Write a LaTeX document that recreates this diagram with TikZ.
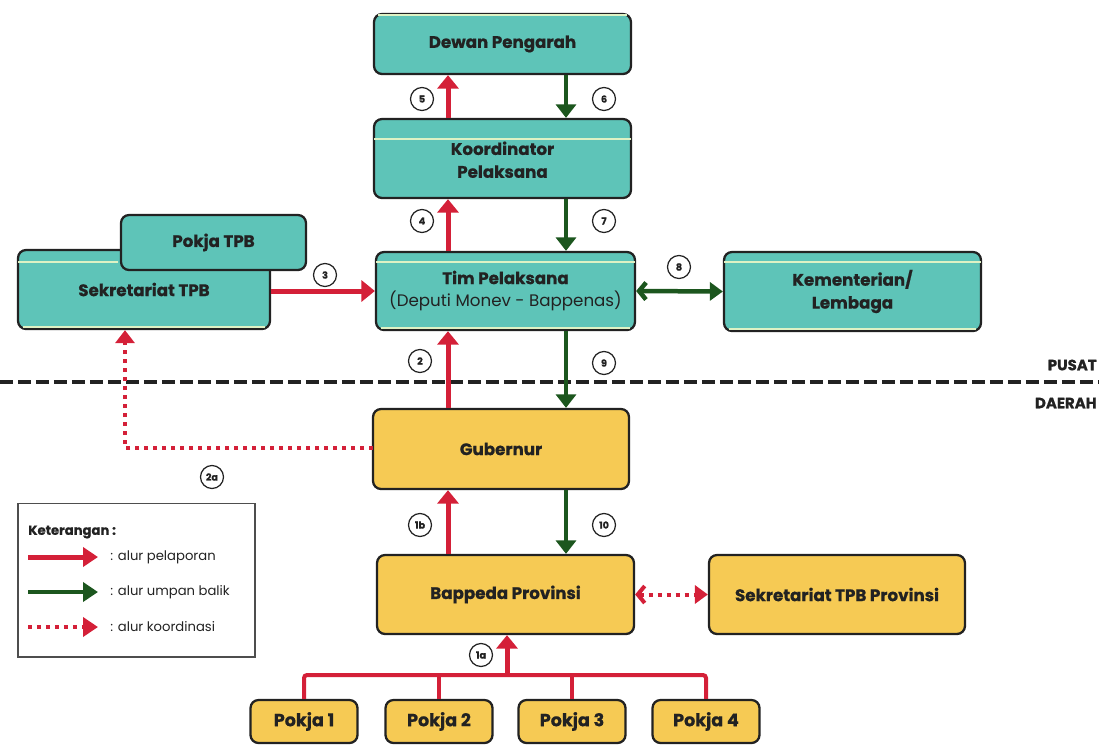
\documentclass[tikz,border=0pt]{standalone}
\usepackage{fontspec}
\setmainfont{Poppins}[BoldFeatures={FakeBold=0.7}]
\usetikzlibrary{arrows.meta}
\definecolor{tealf}{RGB}{94,196,184}
\definecolor{yelf}{RGB}{246,202,84}
\definecolor{bord}{RGB}{34,34,34}
\definecolor{redA}{RGB}{212,32,56}
\definecolor{grnA}{RGB}{28,86,30}
\definecolor{hlc}{RGB}{222,242,196}
\begin{document}
\begin{tikzpicture}[x=0.02cm,y=-0.02cm,
  box/.style={draw=bord, line width=1.3pt, rounded corners=0.16cm, inner sep=0pt, align=center,
    font=\fontsize{9.5}{13}\selectfont\bfseries, text=bord},
  tbox/.style={box, fill=tealf},
  ybox/.style={box, fill=yelf},
  pbox/.style={ybox, minimum width=2.14cm, minimum height=0.86cm, font=\fontsize{10}{12}\selectfont\bfseries},
  hl/.style={draw=hlc, line width=1.2pt},
  rep/.style={draw=redA, line width=0.1cm, -{Triangle[width=0.42cm,length=0.27cm]}},
  fbk/.style={draw=grnA, line width=0.09cm, -{Triangle[width=0.4cm,length=0.27cm]}},
  fbk2/.style={draw=grnA, line width=0.09cm, {Straight Barb[width=0.34cm,length=0.14cm]}-{Triangle[width=0.36cm,length=0.26cm]}},
  crd/.style={draw=redA, line width=0.08cm, dash pattern=on 0.08cm off 0.1cm, -{Triangle[width=0.38cm,length=0.26cm]}},
  crd2/.style={draw=redA, line width=0.08cm, dash pattern=on 0.08cm off 0.1cm, {Straight Barb[width=0.34cm,length=0.14cm]}-{Triangle[width=0.36cm,length=0.26cm]}},
  num/.style={circle, draw=bord, line width=0.7pt, fill=white, minimum size=0.46cm, inner sep=0pt,
    font=\fontsize{5.5}{6}\selectfont\bfseries, text=bord},
  divline/.style={draw=bord, line width=0.08cm, dash pattern=on 0.26cm off 0.1cm},
  legtxt/.style={anchor=west, inner sep=0pt, font=\fontsize{7.5}{9}\selectfont, text=bord}
]
\useasboundingbox (0,0) rectangle (1099,745);

% ---------- boxes ----------
\node[tbox, minimum width=5.14cm, minimum height=1.2cm] (dewan) at (502.5,44) {Dewan Pengarah};
\node[tbox, minimum width=5.14cm, minimum height=1.58cm] (koord) at (502.5,158.5) {\\[-4pt]Koordinator\\Pelaksana};
\node[tbox, minimum width=5.04cm, minimum height=1.58cm] (sek) at (144,289.5) {Sekretariat TPB};
\coordinate (hs) at ([xshift=0.03cm,yshift=-0.26cm]sek.north west);
\node[tbox, minimum width=3.7cm, minimum height=1.1cm] (pokjatpb) at (213.5,242.5) {Pokja TPB};
\node[tbox, minimum width=5.18cm, minimum height=1.56cm] (tim) at (505.5,291) {Tim Pelaksana\\{\mdseries (Deputi Monev - Bappenas)}};
\node[tbox, minimum width=5.14cm, minimum height=1.58cm] (kem) at (852.5,291.5) {Kementerian/\\Lembaga};
\node[ybox, minimum width=5.12cm, minimum height=1.6cm] (gub) at (501,449) {Gubernur};
\node[ybox, minimum width=5.14cm, minimum height=1.58cm] (bap) at (505.5,594.5) {Bappeda Provinsi};
\node[ybox, minimum width=5.12cm, minimum height=1.58cm] (sekprov) at (837,594.5) {Sekretariat TPB Provinsi};
\node[pbox] (p1) at (304,721.5) {Pokja 1};
\node[pbox] (p2) at (439,721.5) {Pokja 2};
\node[pbox] (p3) at (572,721.5) {Pokja 3};
\node[pbox] (p4) at (706,721.5) {Pokja 4};

% pale print highlights inside teal boxes
\draw[hl] ([xshift=0.1cm,yshift=-0.05cm]dewan.north west) -- ([xshift=-0.1cm,yshift=-0.05cm]dewan.north east);
\draw[hl] ([xshift=0.03cm,yshift=-0.42cm]koord.north west) -- ([xshift=-0.03cm,yshift=-0.42cm]koord.north east);
\foreach \b in {tim,kem} {
  \draw[hl] ([xshift=0.03cm,yshift=-0.23cm]\b.north west) -- ([xshift=-0.03cm,yshift=-0.23cm]\b.north east);
  \draw[hl] ([xshift=0.12cm,yshift=0.07cm]\b.south west) -- ([xshift=-0.12cm,yshift=0.07cm]\b.south east);
}
\draw[hl] (hs) -- ([xshift=-0.03cm]hs -| pokjatpb.west);
\draw[hl] ([xshift=0.12cm,yshift=0.07cm]sek.south west) -- ([xshift=-0.12cm,yshift=0.07cm]sek.south east);

% ---------- divider ----------
\coordinate (dl) at (0,382);
\coordinate (dr) at (1099,382);
\draw[divline] (dl) -- (dr);
\node[anchor=east, inner sep=0pt, font=\fontsize{8.5}{10}\selectfont\bfseries, text=bord] (pusat) at (1097,365) {PUSAT};
\node[anchor=east, inner sep=0pt, font=\fontsize{8.5}{10}\selectfont\bfseries, text=bord] (daerah) at (1097,403) {DAERAH};

% ---------- connectors ----------
\coordinate (xr) at (448,0);
\coordinate (xg) at (566,0);
\draw[rep] (koord.north -| xr) -- (dewan.south -| xr);
\draw[fbk] (dewan.south -| xg) -- (koord.north -| xg);
\draw[rep] (tim.north -| xr) -- (koord.south -| xr);
\draw[fbk] (koord.south -| xg) -- (tim.north -| xg);
\draw[rep] (sek.east |- tim.west) -- (tim.west);
\draw[fbk2] (tim.east) -- (kem.west);
\draw[rep] (gub.north -| xr) -- (tim.south -| xr);
\draw[fbk] (tim.south -| xg) -- (gub.north -| xg);
\coordinate (xd) at (125,0);
\coordinate (cgl) at (373,448);
\draw[crd] (cgl) -- (cgl -| xd) -- (sek.south -| xd);
\draw[rep] (bap.north -| xr) -- (gub.south -| xr);
\draw[fbk] (gub.south -| xg) -- (bap.north -| xg);
\draw[crd2] (bap.east) -- (sekprov.west);

% bus from pokja
\coordinate (bus) at (0,675);
\coordinate (xa) at (507,0);
\draw[draw=redA, line width=0.08cm, rounded corners=0.06cm] (p1.north) -- (p1.north |- bus) -- (p4.north |- bus) -- (p4.north);
\draw[draw=redA, line width=0.08cm] (p2.north) -- (p2.north |- bus);
\draw[draw=redA, line width=0.08cm] (p3.north) -- (p3.north |- bus);
\draw[rep] (bus -| xa) -- (bap.south -| xa);

% ---------- number labels ----------
\node[num] (n5) at (422,99) {5};
\node[num] (n6) at (604,99) {6};
\node[num] (n4) at (422,221) {4};
\node[num] (n7) at (604,221) {7};
\node[num] (n3) at (325,275) {3};
\node[num] (n8) at (679,267) {8};
\node[num] (n2) at (420,361) {2};
\node[num] (n9) at (604,363) {9};
\node[num] (n2a) at (212,477) {2a};
\node[num] (n1b) at (420,525) {1b};
\node[num] (n10) at (604,525) {10};
\node[num] (n1a) at (481,655) {1a};

% ---------- legend ----------
\node[draw=bord!80, line width=0.6pt, minimum width=4.74cm, minimum height=3.08cm, inner sep=0pt] (leg) at (136.5,580) {};
\node[legtxt, font=\fontsize{7.5}{9}\selectfont\bfseries] (ket) at (28,532) {Keterangan :};
\coordinate (la1) at (28,557); \coordinate (lb1) at (98,557);
\coordinate (la2) at (28,592); \coordinate (lb2) at (98,592);
\coordinate (la3) at (28,627); \coordinate (lb3) at (98,627);
\draw[rep, -{Triangle[width=0.38cm,length=0.3cm]}] (la1) -- (lb1);
\draw[fbk, -{Triangle[width=0.38cm,length=0.3cm]}] (la2) -- (lb2);
\draw[crd, -{Triangle[width=0.38cm,length=0.3cm]}] (la3) -- (lb3);
\node[legtxt] (lt1) at (110,557) {: alur pelaporan};
\node[legtxt] (lt2) at (110,592) {: alur umpan balik};
\node[legtxt] (lt3) at (110,627) {: alur koordinasi};
\end{tikzpicture}
\end{document}
